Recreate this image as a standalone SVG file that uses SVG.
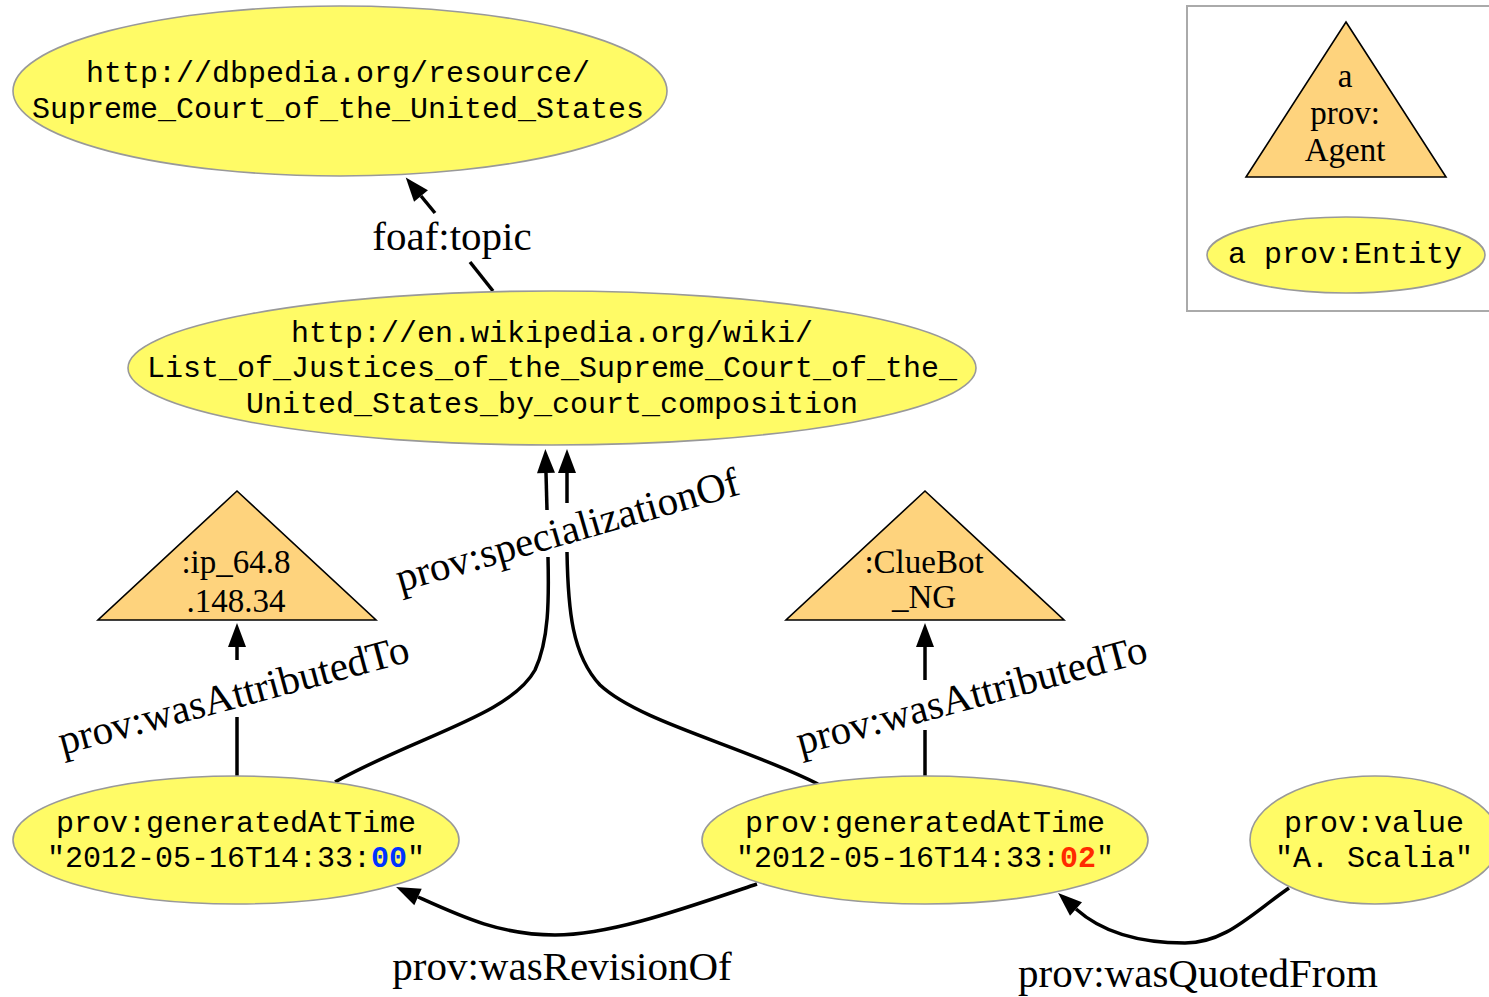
<svg xmlns="http://www.w3.org/2000/svg" width="1489" height="997" viewBox="0 0 1489 997">
<style>
.ent{fill:#fffb66;stroke:#999999;stroke-width:1.6}
.agt{fill:#fed37d;stroke:#000;stroke-width:1.6}
.mono{font-family:"Liberation Mono","Courier New",monospace;font-size:30px;fill:#000;text-anchor:middle}
.ser{font-family:"Liberation Serif","Times New Roman",serif;font-size:33px;fill:#000;text-anchor:middle}
.lbl{font-family:"Liberation Serif","Times New Roman",serif;font-size:41px;fill:#000;text-anchor:middle}
.edge{fill:none;stroke:#000;stroke-width:3.5}
.blue{fill:#0033ff;font-weight:bold}
.red{fill:#ff2a00;font-weight:bold}
</style>
<defs>
<marker id="ah" markerUnits="userSpaceOnUse" markerWidth="24" markerHeight="18" refX="0" refY="9" orient="auto" overflow="visible">
<path d="M0,0 L24,9 L0,18 z" fill="#000"/>
</marker>
</defs>
<rect width="1489" height="997" fill="#fff"/>

<g id="connectors">
<g id="e-topic">
<path class="edge" d="M493,291 L470,262"/>
<path class="edge" d="M435,213 L421,196" marker-end="url(#ah)"/>
<text class="lbl" x="452" y="250">foaf:topic</text>
</g>
<g id="e-attr1">
<path class="edge" d="M237,776 L237,717"/>
<path class="edge" d="M237,660 L237,647" marker-end="url(#ah)"/>
<text class="lbl" x="237" y="708" transform="rotate(-15 237 708)">prov:wasAttributedTo</text>
</g>
<g id="e-attr2">
<path class="edge" d="M925,776 L925,730"/>
<path class="edge" d="M925,680 L925,647" marker-end="url(#ah)"/>
<text class="lbl" x="975" y="708" transform="rotate(-15 975 708)">prov:wasAttributedTo</text>
</g>
<g id="e-spec">
<path class="edge" d="M335,782 C420,735 510,715 535,670 C549,640 549,600 548,557"/>
<path class="edge" d="M547,510 L546,473" marker-end="url(#ah)"/>
<path class="edge" d="M818,784 C740,745 640,722 600,685 C572,655 568,610 567,552"/>
<path class="edge" d="M567,503 L567,473" marker-end="url(#ah)"/>
<text class="lbl" x="571" y="543" transform="rotate(-16 571 543)">prov:specializationOf</text>
</g>
<g id="e-rev">
<path class="edge" d="M757,884 C680,910 610,935 555,935 C500,935 460,916 418,897" marker-end="url(#ah)"/>
<text class="lbl" x="562" y="980">prov:wasRevisionOf</text>
</g>
<g id="e-quote">
<path class="edge" d="M1289,888 C1250,915 1225,943 1185,943 C1145,943 1105,935 1076,909" marker-end="url(#ah)"/>
<text class="lbl" x="1198" y="987">prov:wasQuotedFrom</text>
</g>
</g>

<g id="n-dbpedia">
<ellipse class="ent" cx="340" cy="91" rx="327" ry="85"/>
<text class="mono" x="338" y="82">http://dbpedia.org/resource/</text>
<text class="mono" x="338" y="118">Supreme_Court_of_the_United_States</text>
</g>

<g id="n-wiki">
<ellipse class="ent" cx="552" cy="368" rx="424" ry="77"/>
<text class="mono" x="552" y="342">http://en.wikipedia.org/wiki/</text>
<text class="mono" x="552" y="377">List_of_Justices_of_the_Supreme_Court_of_the_</text>
<text class="mono" x="552" y="413">United_States_by_court_composition</text>
</g>

<g id="n-ip">
<polygon class="agt" points="237,491 376,620 98,620"/>
<text class="ser" x="236" y="573">:ip_64.8</text>
<text class="ser" x="236" y="612">.148.34</text>
</g>

<g id="n-cluebot">
<polygon class="agt" points="925,491 1064,620 786,620"/>
<text class="ser" x="924" y="573">:ClueBot</text>
<text class="ser" x="924" y="608">_NG</text>
</g>

<g id="n-rev00">
<ellipse class="ent" cx="236" cy="840" rx="223" ry="64"/>
<text class="mono" x="236" y="832">prov:generatedAtTime</text>
<text class="mono" x="236" y="867">"2012-05-16T14:33:<tspan class="blue">00</tspan>"</text>
</g>

<g id="n-rev02">
<ellipse class="ent" cx="925" cy="840" rx="223" ry="64"/>
<text class="mono" x="925" y="832">prov:generatedAtTime</text>
<text class="mono" x="925" y="867">"2012-05-16T14:33:<tspan class="red">02</tspan>"</text>
</g>

<g id="n-value">
<ellipse class="ent" cx="1375" cy="840" rx="125" ry="64"/>
<text class="mono" x="1374" y="832">prov:value</text>
<text class="mono" x="1374" y="867">"A. Scalia"</text>
</g>

<g id="legend">
<rect x="1187" y="6" width="320" height="305" fill="#fff" stroke="#aaaaaa" stroke-width="2"/>
<g id="legend-agent">
<polygon class="agt" points="1346,22 1446,177 1246,177"/>
<text class="ser" x="1345" y="87">a</text>
<text class="ser" x="1345" y="124">prov:</text>
<text class="ser" x="1345" y="161">Agent</text>
</g>
<g id="legend-entity">
<ellipse class="ent" cx="1346" cy="255" rx="139" ry="38"/>
<text class="mono" x="1345" y="263">a prov:Entity</text>
</g>
</g>
</svg>
